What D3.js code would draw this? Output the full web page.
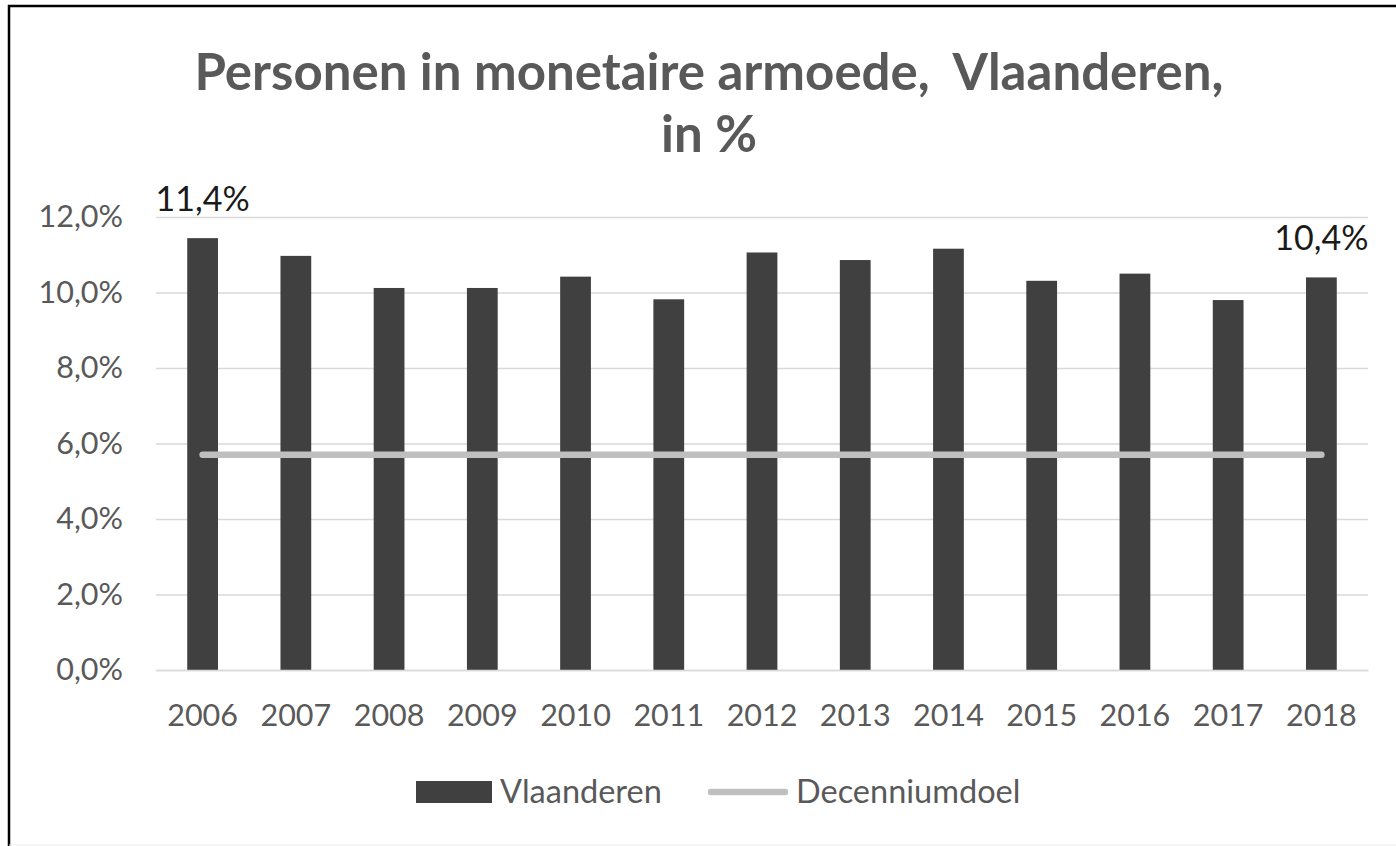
<!DOCTYPE html>
<html>
<head>
<meta charset="utf-8">
<script src="https://cdn.jsdelivr.net/npm/d3@7"></script>
<style>
  body { margin: 0; background: #fff; }
  text { font-family: Lato, "Open Sans", sans-serif; }
</style>
</head>
<body>
<div id="chart"></div>
<script>
// Data
var years = ["2006", "2007", "2008", "2009", "2010", "2011", "2012", "2013", "2014", "2015", "2016", "2017", "2018"];
var vlaanderen = [11.44, 10.97, 10.12, 10.12, 10.42, 9.82, 11.06, 10.86, 11.16, 10.31, 10.5, 9.8, 10.4];
var decenniumdoel = [5.7, 5.7, 5.7, 5.7, 5.7, 5.7, 5.7, 5.7, 5.7, 5.7, 5.7, 5.7, 5.7];
var yTicks = [0, 2, 4, 6, 8, 10, 12];
var labelledYears = ["2006", "2018"];
var titleLines = ["Personen in monetaire armoede,  Vlaanderen,", "in %"];
var legendNames = ["Vlaanderen", "Decenniumdoel"];

var svgWidth = 1396, svgHeight = 846;

//number format with a decimal comma
var nl = d3.formatLocale({decimal: ",", thousands: ".", grouping: [3], currency: ["", "€"]});
var pct = function(v) { return nl.format(".1f")(v) + "%"; };

var svg = d3.select("#chart")
    .append("svg")
    .attr("width", svgWidth)
    .attr("height", svgHeight);

//frame: black line top and left, faint line at the bottom
svg.append("path")
    .attr("d", "M9," + svgHeight + "V6H" + svgWidth)
    .attr("fill", "none")
    .attr("stroke", "#000")
    .attr("stroke-width", 2.5);
svg.append("line")
    .attr("x1", 9).attr("x2", svgWidth)
    .attr("y1", 845).attr("y2", 845)
    .attr("stroke", "#eeeeee");

//scales
var x = d3.scaleBand()
    .domain(years)
    .range([156, 1368])
    .paddingInner(0.67)
    .paddingOuter(0.335);

var y = d3.scaleLinear()
    .domain([0, 12])
    .range([670, 217]);

var cx = function(d) { return x(d) + x.bandwidth() / 2; };

//title
svg.append("g")
    .selectAll("text")
    .data(titleLines)
    .enter()
    .append("text")
    .attr("x", 709)
    .attr("y", function(d, i) { return 90 + i * 62; })
    .attr("text-anchor", "middle")
    .style("white-space", "pre")
    .attr("font-size", 51)
    .attr("font-weight", "bold")
    .attr("fill", "#595959")
    .text(function(d) { return d; });

//gridlines
var grid = svg.append("g")
    .attr("transform", "translate(156,0)")
    .call(d3.axisLeft(y).tickValues(yTicks).tickSize(-(1368 - 156)).tickFormat(""));
grid.select(".domain").remove();
grid.selectAll("line").attr("stroke", "#d9d9d9").attr("stroke-width", 1.5);

//y axis labels
var yAxis = svg.append("g")
    .attr("transform", "translate(123,0)")
    .call(d3.axisLeft(y).tickValues(yTicks).tickSize(0).tickPadding(0).tickFormat(pct));
yAxis.select(".domain").remove();
yAxis.selectAll("text")
    .attr("font-size", 30.5)
    .attr("font-family", "Lato")
    .attr("fill", "#595959");

//bars
svg.append("g")
    .selectAll("rect")
    .data(years)
    .enter()
    .append("rect")
    .attr("x", function(d) { return x(d); })
    .attr("width", x.bandwidth())
    .attr("y", function(d, i) { return y(vlaanderen[i]); })
    .attr("height", function(d, i) { return y(0) - y(vlaanderen[i]); })
    .attr("fill", "#404040");

//x axis
var xAxis = svg.append("g")
    .attr("transform", "translate(0," + y(0) + ")")
    .call(d3.axisBottom(x).tickSize(0).tickPadding(34));
xAxis.select(".domain").attr("stroke", "#d9d9d9").attr("stroke-width", 1.5);
xAxis.selectAll("text")
    .attr("font-size", 30.5)
    .attr("font-family", "Lato")
    .attr("fill", "#595959");

//target line
var line = d3.line()
    .x(function(d, i) { return cx(years[i]); })
    .y(function(d) { return y(d); });

svg.append("path")
    .datum(decenniumdoel)
    .attr("d", line)
    .attr("fill", "none")
    .attr("stroke", "#bfbfbf")
    .attr("stroke-width", 6.5)
    .attr("stroke-linecap", "round");

//data labels on first and last bar
svg.append("g")
    .selectAll("text")
    .data(labelledYears)
    .enter()
    .append("text")
    .attr("x", function(d) { return cx(d); })
    .attr("y", function(d) { return y(vlaanderen[years.indexOf(d)]) - 27; })
    .attr("text-anchor", "middle")
    .attr("font-size", 34)
    .attr("fill", "#1a1a1a")
    .text(function(d) { return pct(vlaanderen[years.indexOf(d)]); });

//legend
var legend = svg.append("g");
legend.append("rect")
    .attr("x", 416).attr("y", 781)
    .attr("width", 76).attr("height", 22)
    .attr("fill", "#404040");
legend.append("line")
    .attr("x1", 711).attr("x2", 785)
    .attr("y1", 792).attr("y2", 792)
    .attr("stroke", "#bfbfbf")
    .attr("stroke-width", 6.5)
    .attr("stroke-linecap", "round");
legend.selectAll("text")
    .data(legendNames)
    .enter()
    .append("text")
    .attr("x", function(d, i) { return i === 0 ? 500 : 796; })
    .attr("y", 803)
    .attr("font-size", 32.5)
    .attr("fill", "#595959")
    .text(function(d) { return d; });
</script>
</body>
</html>
